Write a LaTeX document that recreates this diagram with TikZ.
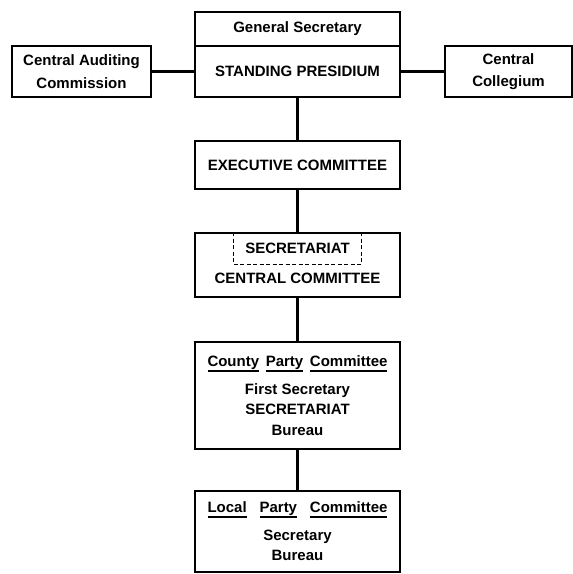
\documentclass[tikz,border=0pt]{standalone}
\usepackage{fontspec}
\setmainfont{Liberation Sans}
\usetikzlibrary{positioning}
\newcommand{\ulword}[1]{\setbox0\hbox{#1}\rlap{\rule[-5pt]{\wd0}{1.8pt}}\box0}
\tikzset{
    font=\fontsize{15}{20.5}\selectfont\bfseries,
    unit/.style={rectangle, draw, line width=2.2pt, outer sep=0pt, inner sep=0pt, align=center, minimum width=205pt},
    side/.style={rectangle, draw, line width=2.2pt, outer sep=0pt, inner sep=0pt, align=center, minimum height=51pt},
    dashbox/.style={rectangle, draw, dash pattern=on 4pt off 2.5pt, line width=0.9pt, outer sep=0pt, inner sep=0pt, minimum width=128pt, minimum height=31pt},
    link/.style={line width=2.2pt}
}
\begin{document}
\begin{tikzpicture}[node distance=44pt]

    \useasboundingbox (0,0) rectangle (573pt,-574pt);

    \node (presid) [unit, minimum height=51pt] at (297.5pt,-71.5pt) {STANDING PRESIDIUM};
    \node (gensec) [unit, minimum height=34pt, above=0pt of presid] {General Secretary};
    \node (audit)  [side, minimum width=139pt, left=44pt of presid] {Central Auditing\\[2pt]Commission};
    \node (colleg) [side, minimum width=127pt, right=45pt of presid] {Central\\[2pt]Collegium};

    \node (exec)    [unit, minimum height=48pt, below=44pt of presid] {EXECUTIVE COMMITTEE};
    \node (centcom) [unit, minimum height=64pt, below=44pt of exec] {};
    \node (secr)    [dashbox, below=0pt of centcom.north] {SECRETARIAT};
    \node (cctext)  at ([yshift=-13pt]centcom.center) {CENTRAL COMMITTEE};

    \node (county) [unit, minimum height=107pt, below=45pt of centcom]
        {\makebox[180pt]{\ulword{County}\hfill\ulword{Party}\hfill\ulword{Committee}}\\[7pt]
         First Secretary\\SECRETARIAT\\Bureau};
    \node (local)  [unit, minimum height=81pt, below=42pt of county]
        {\makebox[180pt]{\ulword{Local}\hfill\ulword{Party}\hfill\ulword{Committee}}\\[7pt]
         Secretary\\Bureau};

    \draw [link] (audit) -- (presid);
    \draw [link] (presid) -- (colleg);
    \draw [link] (presid) -- (exec);
    \draw [link] (exec) -- (centcom);
    \draw [link] (centcom) -- (county);
    \draw [link] (county) -- (local);

\end{tikzpicture}
\end{document}
